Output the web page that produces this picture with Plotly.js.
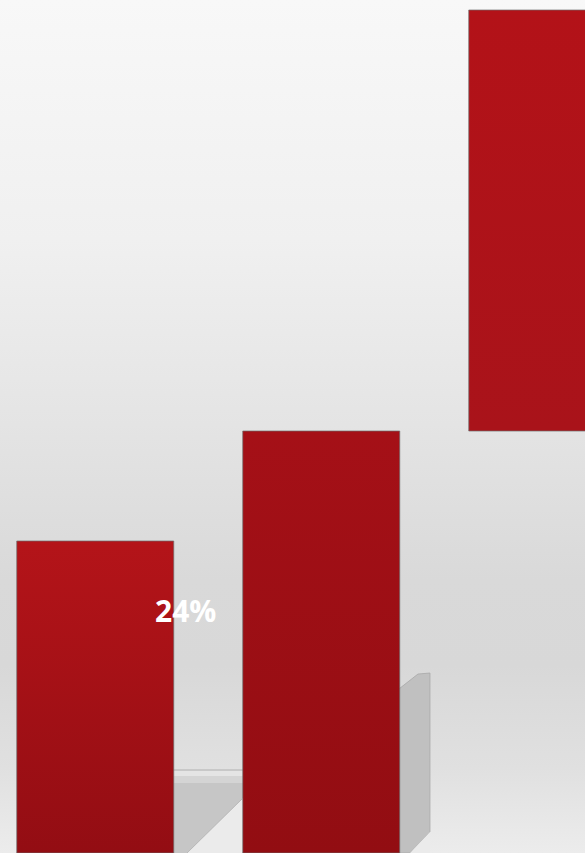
<!DOCTYPE html>
<html>
<head>
<meta charset="utf-8">
<script src="https://cdn.plot.ly/plotly-3.0.1.min.js"></script>
<style>
html,body{margin:0;padding:0;}
#chart{width:585px;height:853px;
background:linear-gradient(to bottom,#f8f8f8 0%,#f0f0f0 28%,#e5e5e5 48%,#d9d9d9 68%,#d8d8d8 78%,#e0e0e0 90%,#ececec 100%);}
</style>
</head>
<body>
<div id="chart"></div>
<script>
// Data
const categories = [0, 1, 2];
const barBase = [0, 0, 42.2];
const barHeight = [31.2, 42.2, 42.1];
const labelText = "24%";
const labelX = 0.40;
const labelY = 24.3;

const W = 585, H = 853;
const X0 = 95.25, PITCH = 226;
function P(x, y) { return (x / W).toFixed(4) + "," + (1 - y / H).toFixed(4); }
function path(pts) { return "M" + pts.map(p => P(p[0], p[1])).join(" L") + " Z"; }

const shapes = [
  {type:"path", xref:"paper", yref:"paper", layer:"below",
   path: path([[170,783],[245,783],[245,801],[187,853],[170,853]]),
   fillcolor:"#c6c6c6", line:{width:0}},
  {type:"path", xref:"paper", yref:"paper", layer:"below",
   path: path([[170,776],[245,776],[245,783],[170,783]]),
   fillcolor:"#d4d4d4", line:{width:0}},
  {type:"path", xref:"paper", yref:"paper", layer:"below",
   path: path([[170,771],[245,771],[245,776],[170,776]]),
   fillcolor:"#e4e4e4", line:{width:0}},
  {type:"path", xref:"paper", yref:"paper", layer:"below",
   path: path([[245,796],[245,853],[187,853]]),
   fillcolor:"#ebebeb", line:{width:0}},
  {type:"line", xref:"paper", yref:"paper", layer:"below",
   x0:242/W, x1:187/W, y0:1-799/H, y1:0, line:{color:"#b0b0b0", width:0.8}},
  {type:"line", xref:"paper", yref:"paper", layer:"below",
   x0:170/W, x1:245/W, y0:1-770/H, y1:1-770/H, line:{color:"#b0b0b0", width:1}},
  {type:"path", xref:"paper", yref:"paper", layer:"below",
   path: path([[395,692],[418,674],[430,673],[430,832],[410,853],[395,853]]),
   fillcolor:"#c0c0c0", line:{color:"#a8a8a8", width:0.8}},
  {type:"path", xref:"paper", yref:"paper", layer:"below",
   path: path([[430,832],[430,853],[410,853]]),
   fillcolor:"#ebebeb", line:{width:0}}
];

const trace = {
  type: "bar",
  x: categories,
  y: barHeight,
  base: barBase,
  width: 157 / PITCH,
  marker: {color: "#a51117", line: {color: "rgba(110,110,110,0.7)", width: 1}},
  hoverinfo: "skip"
};

const layout = {
  width: W, height: H,
  margin: {l:0, r:0, t:0, b:0, pad:0},
  paper_bgcolor: "rgba(0,0,0,0)",
  plot_bgcolor: "rgba(0,0,0,0)",
  showlegend: false,
  xaxis: {range: [-X0 / PITCH, (W - X0) / PITCH], visible: false, fixedrange: true},
  yaxis: {range: [0, 85.3], visible: false, fixedrange: true},
  shapes: shapes,
  annotations: [{
    x: labelX, y: labelY, xref: "x", yref: "y", text: labelText, showarrow: false,
    font: {family: "Open Sans", size: 30, color: "#ffffff", weight: 700}
  }]
};

Plotly.newPlot("chart", [trace], layout, {staticPlot: true, displayModeBar: false}).then(function (gd) {
  const svg = gd.querySelector("svg.main-svg");
  const ns = "http://www.w3.org/2000/svg";
  let defs = svg.querySelector("defs");
  if (!defs) { defs = document.createElementNS(ns, "defs"); svg.insertBefore(defs, svg.firstChild); }
  const grads = [["#b41419", "#930d13"], ["#a51017", "#920d12"], ["#b31218", "#a9131a"]];
  grads.forEach(function (g, i) {
    const lg = document.createElementNS(ns, "linearGradient");
    lg.setAttribute("id", "barGrad" + i);
    lg.setAttribute("x1", "0"); lg.setAttribute("y1", "0");
    lg.setAttribute("x2", "0"); lg.setAttribute("y2", "1");
    [[0, g[0]], [1, g[1]]].forEach(function (s) {
      const st = document.createElementNS(ns, "stop");
      st.setAttribute("offset", s[0]);
      st.setAttribute("stop-color", s[1]);
      lg.appendChild(st);
    });
    defs.appendChild(lg);
  });
  gd.querySelectorAll(".bars .point path").forEach(function (p, i) {
    p.style.fill = "url(#barGrad" + i + ")";
  });
});
</script>
</body>
</html>
